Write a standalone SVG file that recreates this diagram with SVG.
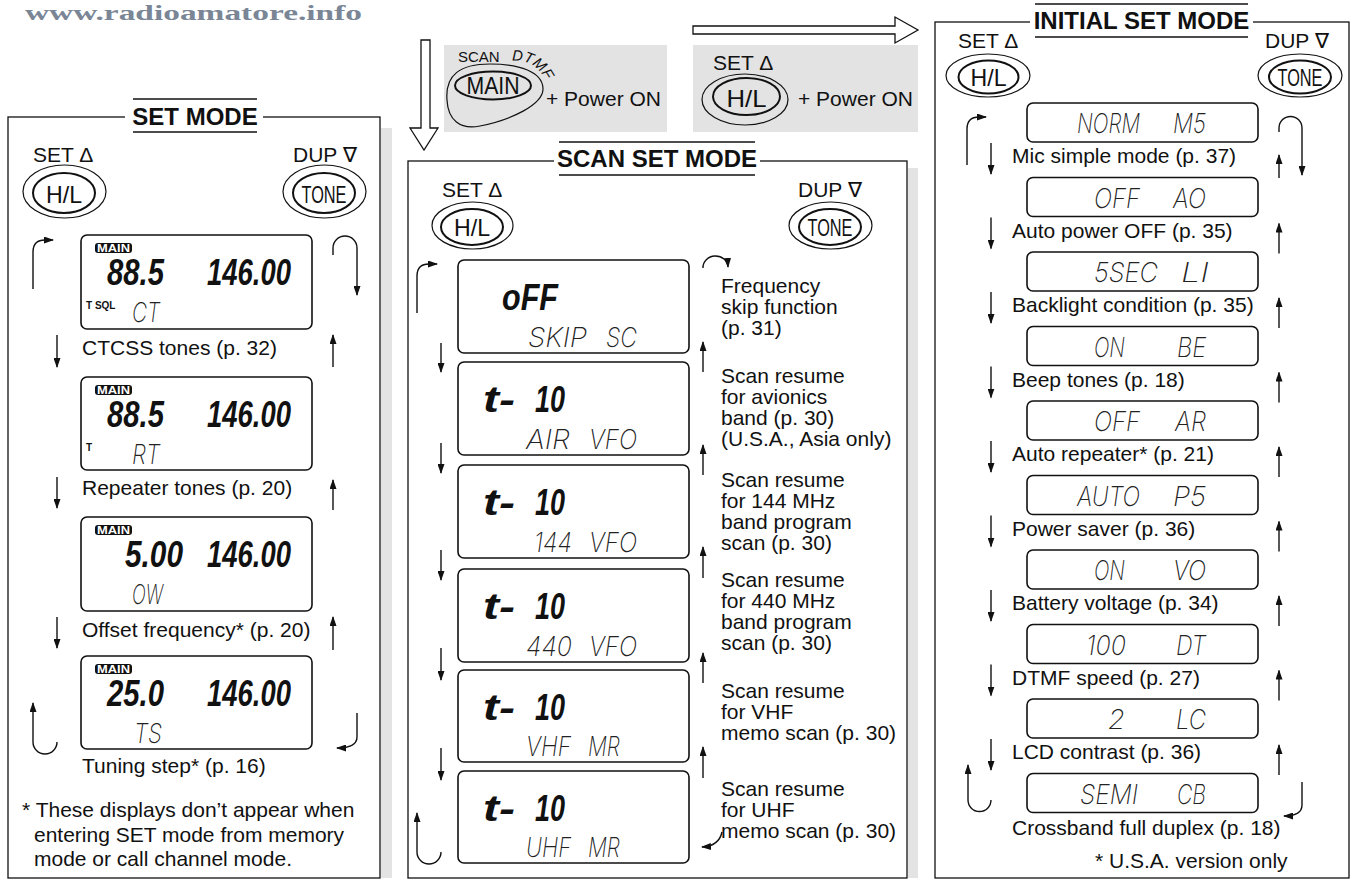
<svg xmlns="http://www.w3.org/2000/svg" width="1351" height="881" viewBox="0 0 1351 881">
<style>
.lbl{font-family:"Liberation Sans",Arial,sans-serif;font-size:21px;fill:#111}
.ttl{font-family:"Liberation Sans",Arial,sans-serif;font-size:24px;font-weight:bold;fill:#111;text-anchor:middle}
.key{font-family:"Liberation Sans",Arial,sans-serif;font-size:24px;fill:#111;text-anchor:middle}
.lcd{fill:#fff;stroke:#111;stroke-width:1.6}
.seg{font-family:Inter,"DejaVu Sans",sans-serif;font-style:italic;font-weight:200;font-size:27px;fill:#222}
.big{font-family:"Liberation Sans",Arial,sans-serif;font-weight:bold;font-style:italic;font-size:36px;fill:#111}
.tiny{font-family:"Liberation Sans",Arial,sans-serif;font-weight:bold;font-size:10px;fill:#111}
.badge{font-family:"Liberation Sans",Arial,sans-serif;font-weight:bold;font-size:10px;fill:#fff;text-anchor:middle}
.panel{fill:#fff;stroke:#111;stroke-width:1.3}
.shadow{fill:#e3e3e3}
.rule{stroke:#111;stroke-width:1.3}
.ob{fill:none;stroke:#111;stroke-width:1.2}
.ib{fill:none;stroke:#111;stroke-width:2}
.arr{fill:none;stroke:#111;stroke-width:1.4;marker-end:url(#ah)}
.hollow{fill:#fff;stroke:#111;stroke-width:1.3}
</style>
<defs>
<marker id="ah" markerUnits="userSpaceOnUse" markerWidth="10" markerHeight="7" refX="9" refY="3.5" orient="auto">
<path d="M0,0 L10,3.5 L0,7 z" fill="#111"/>
</marker>
</defs>
<rect width="1351" height="881" fill="#fff"/>

<g id="watermark">
<text x="25" y="20" font-family="Liberation Serif,serif" font-weight="bold" font-size="21" fill="#7a8696" textLength="337" lengthAdjust="spacingAndGlyphs">www.radioamatore.info</text>
</g>

<!-- ================= SET MODE ================= -->
<g id="set-mode-panel">
<rect class="shadow" x="381" y="128" width="11" height="750"/>
<rect class="panel" x="8" y="117" width="372" height="761"/>
<rect x="125" y="100" width="138" height="31" fill="#fff"/>
<line class="rule" x1="133" y1="99" x2="257" y2="99"/>
<line class="rule" x1="133" y1="132" x2="257" y2="132"/>
<text class="ttl" x="195" y="125">SET MODE</text>
</g>
<g id="set-hl">
<text class="lbl" x="33" y="162">SET Δ</text>
<ellipse class="ob" cx="64.5" cy="191.5" rx="41.5" ry="26.5"/>
<ellipse class="ib" cx="64" cy="193" rx="31" ry="20"/>
<text class="key" x="64" y="203" textLength="36" lengthAdjust="spacingAndGlyphs">H/L</text>
</g>
<g id="set-tone">
<text class="lbl" x="293" y="162">DUP ∇</text>
<ellipse class="ob" cx="324.5" cy="191.5" rx="41.5" ry="26.5"/>
<ellipse class="ib" cx="324" cy="193" rx="31" ry="20"/>
<text class="key" x="324" y="203" textLength="45" lengthAdjust="spacingAndGlyphs">TONE</text>
</g>
<g id="set-ctcss">
<rect class="lcd" x="81" y="235" width="231" height="94" rx="6"/>
<rect x="95" y="243" width="37" height="10" rx="3" fill="#111"/>
<text class="badge" x="113.5" y="252" textLength="33" lengthAdjust="spacingAndGlyphs">MAIN</text>
<text class="big" x="107" y="285" textLength="57" lengthAdjust="spacingAndGlyphs">88.5</text>
<text class="big" x="207" y="285" textLength="84" lengthAdjust="spacingAndGlyphs">146.00</text>
<text class="tiny" x="86" y="309">T SQL</text>
<text class="seg" x="132" y="322" textLength="28" lengthAdjust="spacingAndGlyphs">CT</text>
<text class="lbl" x="82" y="355">CTCSS tones (p. 32)</text>
</g>
<g id="set-repeater">
<rect class="lcd" x="81" y="377" width="231" height="93" rx="6"/>
<rect x="95" y="385" width="37" height="10" rx="3" fill="#111"/>
<text class="badge" x="113.5" y="394" textLength="33" lengthAdjust="spacingAndGlyphs">MAIN</text>
<text class="big" x="107" y="427" textLength="57" lengthAdjust="spacingAndGlyphs">88.5</text>
<text class="big" x="207" y="427" textLength="84" lengthAdjust="spacingAndGlyphs">146.00</text>
<text class="tiny" x="86" y="451">T</text>
<text class="seg" x="132" y="464" textLength="28" lengthAdjust="spacingAndGlyphs">RT</text>
<text class="lbl" x="82" y="495">Repeater tones (p. 20)</text>
</g>
<g id="set-offset">
<rect class="lcd" x="81" y="517" width="231" height="94" rx="6"/>
<rect x="95" y="525" width="37" height="10" rx="3" fill="#111"/>
<text class="badge" x="113.5" y="534" textLength="33" lengthAdjust="spacingAndGlyphs">MAIN</text>
<text class="big" x="125" y="567" textLength="58" lengthAdjust="spacingAndGlyphs">5.00</text>
<text class="big" x="207" y="567" textLength="84" lengthAdjust="spacingAndGlyphs">146.00</text>
<text class="seg" x="132" y="604" textLength="31" lengthAdjust="spacingAndGlyphs">OW</text>
<text class="lbl" x="82" y="637">Offset frequency* (p. 20)</text>
</g>
<g id="set-tuning">
<rect class="lcd" x="81" y="656" width="231" height="93" rx="6"/>
<rect x="95" y="664" width="37" height="10" rx="3" fill="#111"/>
<text class="badge" x="113.5" y="673" textLength="33" lengthAdjust="spacingAndGlyphs">MAIN</text>
<text class="big" x="107" y="706" textLength="57" lengthAdjust="spacingAndGlyphs">25.0</text>
<text class="big" x="207" y="706" textLength="84" lengthAdjust="spacingAndGlyphs">146.00</text>
<text class="seg" x="134" y="743" textLength="28" lengthAdjust="spacingAndGlyphs">TS</text>
<text class="lbl" x="82" y="773">Tuning step* (p. 16)</text>
</g>
<g id="set-note">
<text class="lbl" x="22" y="817">* These displays don’t appear when</text>
<text class="lbl" x="34" y="842">entering SET mode from memory</text>
<text class="lbl" x="34" y="866">mode or call channel mode.</text>
</g>

<!-- ================= TOP ENTRY BOXES ================= -->
<g id="entry-scan">
<rect x="444" y="45" width="223" height="87" fill="#e3e3e3"/>
<text x="458" y="62" font-family="Liberation Sans,Arial,sans-serif" font-size="15" fill="#111">SCAN</text>
<text font-family="Liberation Sans,Arial,sans-serif" font-size="15" font-style="italic" fill="#111"><textPath href="#dtmfArc">DTMF</textPath></text>
<path class="ob" d="M447,100 C445,75 460,64 490,64 C520,64 542,72 543,88 C544,105 510,120 480,126 C460,130 448,120 447,100 Z"/>
<ellipse class="ib" cx="493" cy="85.5" rx="38" ry="14"/>
<text class="key" x="493" y="94" textLength="53" lengthAdjust="spacingAndGlyphs">MAIN</text>
<text class="lbl" x="546" y="106">+ Power ON</text>
</g>
<g id="entry-initial">
<rect x="693" y="45" width="225" height="87" fill="#e3e3e3"/>
<text class="lbl" x="713" y="70">SET Δ</text>
<ellipse class="ob" cx="745" cy="99.5" rx="43" ry="25.5"/>
<ellipse class="ib" cx="746.5" cy="96.5" rx="33.5" ry="18.5"/>
<text class="key" x="746.5" y="107" textLength="40" lengthAdjust="spacingAndGlyphs">H/L</text>
<text class="lbl" x="798" y="106">+ Power ON</text>
</g>

<!-- ================= SCAN SET MODE ================= -->
<g id="scan-panel">
<rect class="shadow" x="908" y="168" width="10" height="710"/>
<rect class="panel" x="408" y="161" width="499" height="717"/>
<rect x="554" y="144" width="206" height="30" fill="#fff"/>
<line class="rule" x1="559" y1="142" x2="755" y2="142"/>
<line class="rule" x1="559" y1="175" x2="755" y2="175"/>
<text class="ttl" x="657" y="167">SCAN SET MODE</text>
</g>
<g id="scan-hl">
<text class="lbl" x="442" y="197">SET Δ</text>
<ellipse class="ob" cx="472.5" cy="225.5" rx="40.5" ry="23.5"/>
<ellipse class="ib" cx="472" cy="227" rx="31" ry="18"/>
<text class="key" x="472" y="236" textLength="36" lengthAdjust="spacingAndGlyphs">H/L</text>
</g>
<g id="scan-tone">
<text class="lbl" x="798" y="197">DUP ∇</text>
<ellipse class="ob" cx="830.5" cy="225.5" rx="41.5" ry="23.5"/>
<ellipse class="ib" cx="830" cy="227" rx="31" ry="18"/>
<text class="key" x="830" y="236" textLength="45" lengthAdjust="spacingAndGlyphs">TONE</text>
</g>
<g id="scan-skip">
<rect class="lcd" x="458" y="260" width="231" height="93" rx="6"/>
<text class="big" x="502" y="310" textLength="56" lengthAdjust="spacingAndGlyphs">oFF</text>
<text class="seg" x="528" y="347" textLength="59" lengthAdjust="spacingAndGlyphs">SKIP</text>
<text class="seg" x="606" y="347" textLength="31" lengthAdjust="spacingAndGlyphs">SC</text>
<text class="lbl" x="721" y="293">Frequency</text>
<text class="lbl" x="721" y="314">skip function</text>
<text class="lbl" x="721" y="335">(p. 31)</text>
</g>
<g id="scan-air">
<rect class="lcd" x="458" y="362" width="231" height="93" rx="6"/>
<text class="big" x="483" y="412" textLength="32" lengthAdjust="spacingAndGlyphs">t-</text>
<text class="big" x="535" y="412" textLength="30" lengthAdjust="spacingAndGlyphs">10</text>
<text class="seg" x="526" y="449" textLength="44" lengthAdjust="spacingAndGlyphs">AIR</text>
<text class="seg" x="589" y="449" textLength="48" lengthAdjust="spacingAndGlyphs">VFO</text>
<text class="lbl" x="721" y="383">Scan resume</text>
<text class="lbl" x="721" y="404">for avionics</text>
<text class="lbl" x="721" y="425">band (p. 30)</text>
<text class="lbl" x="721" y="446">(U.S.A., Asia only)</text>
</g>
<g id="scan-144">
<rect class="lcd" x="458" y="465" width="231" height="93" rx="6"/>
<text class="big" x="483" y="515" textLength="32" lengthAdjust="spacingAndGlyphs">t-</text>
<text class="big" x="535" y="515" textLength="30" lengthAdjust="spacingAndGlyphs">10</text>
<text class="seg" x="534" y="552" textLength="38" lengthAdjust="spacingAndGlyphs">144</text>
<text class="seg" x="589" y="552" textLength="48" lengthAdjust="spacingAndGlyphs">VFO</text>
<text class="lbl" x="721" y="487">Scan resume</text>
<text class="lbl" x="721" y="508">for 144 MHz</text>
<text class="lbl" x="721" y="529">band program</text>
<text class="lbl" x="721" y="550">scan (p. 30)</text>
</g>
<g id="scan-440">
<rect class="lcd" x="458" y="569" width="231" height="93" rx="6"/>
<text class="big" x="483" y="619" textLength="32" lengthAdjust="spacingAndGlyphs">t-</text>
<text class="big" x="535" y="619" textLength="30" lengthAdjust="spacingAndGlyphs">10</text>
<text class="seg" x="526" y="656" textLength="46" lengthAdjust="spacingAndGlyphs">440</text>
<text class="seg" x="589" y="656" textLength="48" lengthAdjust="spacingAndGlyphs">VFO</text>
<text class="lbl" x="721" y="587">Scan resume</text>
<text class="lbl" x="721" y="608">for 440 MHz</text>
<text class="lbl" x="721" y="629">band program</text>
<text class="lbl" x="721" y="650">scan (p. 30)</text>
</g>
<g id="scan-vhf">
<rect class="lcd" x="458" y="670" width="231" height="92" rx="6"/>
<text class="big" x="483" y="720" textLength="32" lengthAdjust="spacingAndGlyphs">t-</text>
<text class="big" x="535" y="720" textLength="30" lengthAdjust="spacingAndGlyphs">10</text>
<text class="seg" x="526" y="756" textLength="45" lengthAdjust="spacingAndGlyphs">VHF</text>
<text class="seg" x="588" y="756" textLength="32" lengthAdjust="spacingAndGlyphs">MR</text>
<text class="lbl" x="721" y="698">Scan resume</text>
<text class="lbl" x="721" y="719">for VHF</text>
<text class="lbl" x="721" y="740">memo scan (p. 30)</text>
</g>
<g id="scan-uhf">
<rect class="lcd" x="458" y="771" width="231" height="92" rx="6"/>
<text class="big" x="483" y="821" textLength="32" lengthAdjust="spacingAndGlyphs">t-</text>
<text class="big" x="535" y="821" textLength="30" lengthAdjust="spacingAndGlyphs">10</text>
<text class="seg" x="526" y="857" textLength="45" lengthAdjust="spacingAndGlyphs">UHF</text>
<text class="seg" x="588" y="857" textLength="32" lengthAdjust="spacingAndGlyphs">MR</text>
<text class="lbl" x="721" y="796">Scan resume</text>
<text class="lbl" x="721" y="817">for UHF</text>
<text class="lbl" x="721" y="838">memo scan (p. 30)</text>
</g>

<!-- ================= INITIAL SET MODE ================= -->
<g id="initial-panel">
<rect class="panel" x="935" y="22" width="414" height="856"/>
<rect x="1030" y="6" width="223" height="30" fill="#fff"/>
<line class="rule" x1="1035" y1="4" x2="1248" y2="4"/>
<line class="rule" x1="1035" y1="37" x2="1248" y2="37"/>
<text class="ttl" x="1141.5" y="29">INITIAL SET MODE</text>
</g>
<g id="initial-hl">
<text class="lbl" x="958" y="48">SET Δ</text>
<ellipse class="ob" cx="988" cy="75.5" rx="42" ry="21.5"/>
<ellipse class="ib" cx="988.5" cy="77" rx="30" ry="16.5"/>
<text class="key" x="988.5" y="86" textLength="36" lengthAdjust="spacingAndGlyphs">H/L</text>
</g>
<g id="initial-tone">
<text class="lbl" x="1265" y="48">DUP ∇</text>
<ellipse class="ob" cx="1300" cy="75.5" rx="42" ry="21.5"/>
<ellipse class="ib" cx="1300" cy="77" rx="31" ry="16.5"/>
<text class="key" x="1300" y="86" textLength="45" lengthAdjust="spacingAndGlyphs">TONE</text>
</g>
<g id="init-mic">
<rect class="lcd" x="1027" y="103" width="231" height="39" rx="6"/>
<text class="seg" x="1077" y="133" textLength="63" lengthAdjust="spacingAndGlyphs">NORM</text>
<text class="seg" x="1173" y="133" textLength="33" lengthAdjust="spacingAndGlyphs">M5</text>
<text class="lbl" x="1012" y="163">Mic simple mode (p. 37)</text>
</g>
<g id="init-apo">
<rect class="lcd" x="1027" y="177.5" width="231" height="39" rx="6"/>
<text class="seg" x="1094" y="207.5" textLength="46" lengthAdjust="spacingAndGlyphs">OFF</text>
<text class="seg" x="1173" y="207.5" textLength="33" lengthAdjust="spacingAndGlyphs">AO</text>
<text class="lbl" x="1012" y="237.5">Auto power OFF (p. 35)</text>
</g>
<g id="init-backlight">
<rect class="lcd" x="1027" y="252" width="231" height="39" rx="6"/>
<text class="seg" x="1094" y="282" textLength="64" lengthAdjust="spacingAndGlyphs">5SEC</text>
<text class="seg" x="1181" y="282" textLength="28" lengthAdjust="spacingAndGlyphs">LI</text>
<text class="lbl" x="1012" y="312">Backlight condition (p. 35)</text>
</g>
<g id="init-beep">
<rect class="lcd" x="1027" y="326.5" width="231" height="39" rx="6"/>
<text class="seg" x="1094" y="356.5" textLength="31" lengthAdjust="spacingAndGlyphs">ON</text>
<text class="seg" x="1177" y="356.5" textLength="29" lengthAdjust="spacingAndGlyphs">BE</text>
<text class="lbl" x="1012" y="386.5">Beep tones (p. 18)</text>
</g>
<g id="init-autorpt">
<rect class="lcd" x="1027" y="401" width="231" height="39" rx="6"/>
<text class="seg" x="1094" y="431" textLength="46" lengthAdjust="spacingAndGlyphs">OFF</text>
<text class="seg" x="1175" y="431" textLength="31" lengthAdjust="spacingAndGlyphs">AR</text>
<text class="lbl" x="1012" y="461">Auto repeater* (p. 21)</text>
</g>
<g id="init-saver">
<rect class="lcd" x="1027" y="475.5" width="231" height="39" rx="6"/>
<text class="seg" x="1077" y="505.5" textLength="63" lengthAdjust="spacingAndGlyphs">AUTO</text>
<text class="seg" x="1173" y="505.5" textLength="33" lengthAdjust="spacingAndGlyphs">P5</text>
<text class="lbl" x="1012" y="535.5">Power saver (p. 36)</text>
</g>
<g id="init-battery">
<rect class="lcd" x="1027" y="550" width="231" height="39" rx="6"/>
<text class="seg" x="1094" y="580" textLength="31" lengthAdjust="spacingAndGlyphs">ON</text>
<text class="seg" x="1173" y="580" textLength="33" lengthAdjust="spacingAndGlyphs">VO</text>
<text class="lbl" x="1012" y="610">Battery voltage (p. 34)</text>
</g>
<g id="init-dtmf">
<rect class="lcd" x="1027" y="624.5" width="231" height="39" rx="6"/>
<text class="seg" x="1086" y="654.5" textLength="40" lengthAdjust="spacingAndGlyphs">100</text>
<text class="seg" x="1176" y="654.5" textLength="30" lengthAdjust="spacingAndGlyphs">DT</text>
<text class="lbl" x="1012" y="684.5">DTMF speed (p. 27)</text>
</g>
<g id="init-lcd">
<rect class="lcd" x="1027" y="699" width="231" height="39" rx="6"/>
<text class="seg" x="1108" y="729" textLength="17" lengthAdjust="spacingAndGlyphs">2</text>
<text class="seg" x="1176" y="729" textLength="30" lengthAdjust="spacingAndGlyphs">LC</text>
<text class="lbl" x="1012" y="759">LCD contrast (p. 36)</text>
</g>
<g id="init-crossband">
<rect class="lcd" x="1027" y="773.5" width="231" height="39" rx="6"/>
<text class="seg" x="1080" y="803.5" textLength="58" lengthAdjust="spacingAndGlyphs">SEMI</text>
<text class="seg" x="1177" y="803.5" textLength="29" lengthAdjust="spacingAndGlyphs">CB</text>
<text class="lbl" x="1012" y="835">Crossband full duplex (p. 18)</text>
</g>
<g id="init-note">
<text class="lbl" x="1095" y="868">* U.S.A. version only</text>
</g>

<!-- ================= CONNECTORS ================= -->
<g id="connectors">
<path id="dtmfArc" d="M512,61 Q540,58 550,92" fill="none" stroke="none"/>
<polygon class="hollow" points="421,40 430,40 430,128 438,128 424,150 410,128 421,128"/>
<polygon class="hollow" points="693,26 895,26 895,17 918,30 895,43 895,34 693,34"/>

<!-- SET MODE -->
<path class="arr" d="M33,289 V252 Q33,240 45,240 L53,240"/>
<path class="arr" d="M333,255 V248 A12,12 0 0 1 357,248 V295"/>
<path class="arr" d="M57,742 A12,12 0 0 1 33,742 V703"/>
<path class="arr" d="M357,713 V737 Q357,748 337,748"/>
<line class="arr" x1="57" y1="335" x2="57" y2="367"/>
<line class="arr" x1="57" y1="477" x2="57" y2="508"/>
<line class="arr" x1="57" y1="617" x2="57" y2="648"/>
<line class="arr" x1="333" y1="367" x2="333" y2="335"/>
<line class="arr" x1="333" y1="510" x2="333" y2="480"/>
<line class="arr" x1="333" y1="650" x2="333" y2="617"/>

<!-- SCAN SET MODE -->
<path class="arr" d="M417,313 V276 Q417,264 429,264 L437,264"/>
<path class="arr" d="M703,268 A12,11 0 0 1 728,267"/>
<path class="arr" d="M441,852 A12,12 0 0 1 417,852 V813"/>
<path class="arr" d="M722,832 Q719,846 702,847"/>
<line class="arr" x1="441" y1="343" x2="441" y2="372"/>
<line class="arr" x1="441" y1="443" x2="441" y2="473"/>
<line class="arr" x1="441" y1="550" x2="441" y2="580"/>
<line class="arr" x1="441" y1="648" x2="441" y2="680"/>
<line class="arr" x1="441" y1="748" x2="441" y2="780"/>
<line class="arr" x1="703" y1="372" x2="703" y2="342"/>
<line class="arr" x1="703" y1="475" x2="703" y2="445"/>
<line class="arr" x1="703" y1="578" x2="703" y2="547"/>
<line class="arr" x1="703" y1="683" x2="703" y2="653"/>
<line class="arr" x1="703" y1="778" x2="703" y2="747"/>

<!-- INITIAL SET MODE -->
<path class="arr" d="M967,165 V129 Q967,117 979,117 L986,117"/>
<path class="arr" d="M1279,132 V128 A11.5,11.5 0 0 1 1302,128 V175"/>
<path class="arr" d="M991,800 A11.5,11.5 0 0 1 968,800 V765"/>
<path class="arr" d="M1302,782 V805 Q1302,816 1284,816"/>
<line class="arr" x1="991" y1="143" x2="991" y2="174"/>
<line class="arr" x1="991" y1="217.5" x2="991" y2="248.5"/>
<line class="arr" x1="991" y1="292" x2="991" y2="323"/>
<line class="arr" x1="991" y1="366.5" x2="991" y2="397.5"/>
<line class="arr" x1="991" y1="441" x2="991" y2="472"/>
<line class="arr" x1="991" y1="515.5" x2="991" y2="546.5"/>
<line class="arr" x1="991" y1="590" x2="991" y2="621"/>
<line class="arr" x1="991" y1="664.5" x2="991" y2="695.5"/>
<line class="arr" x1="991" y1="739" x2="991" y2="770"/>
<line class="arr" x1="1279" y1="178" x2="1279" y2="155"/>
<line class="arr" x1="1279" y1="253.5" x2="1279" y2="223.5"/>
<line class="arr" x1="1279" y1="328" x2="1279" y2="298"/>
<line class="arr" x1="1279" y1="402.5" x2="1279" y2="372.5"/>
<line class="arr" x1="1279" y1="477" x2="1279" y2="447"/>
<line class="arr" x1="1279" y1="551.5" x2="1279" y2="521.5"/>
<line class="arr" x1="1279" y1="626" x2="1279" y2="596"/>
<line class="arr" x1="1279" y1="700.5" x2="1279" y2="670.5"/>
<line class="arr" x1="1279" y1="775" x2="1279" y2="745"/>
</g>
</svg>
